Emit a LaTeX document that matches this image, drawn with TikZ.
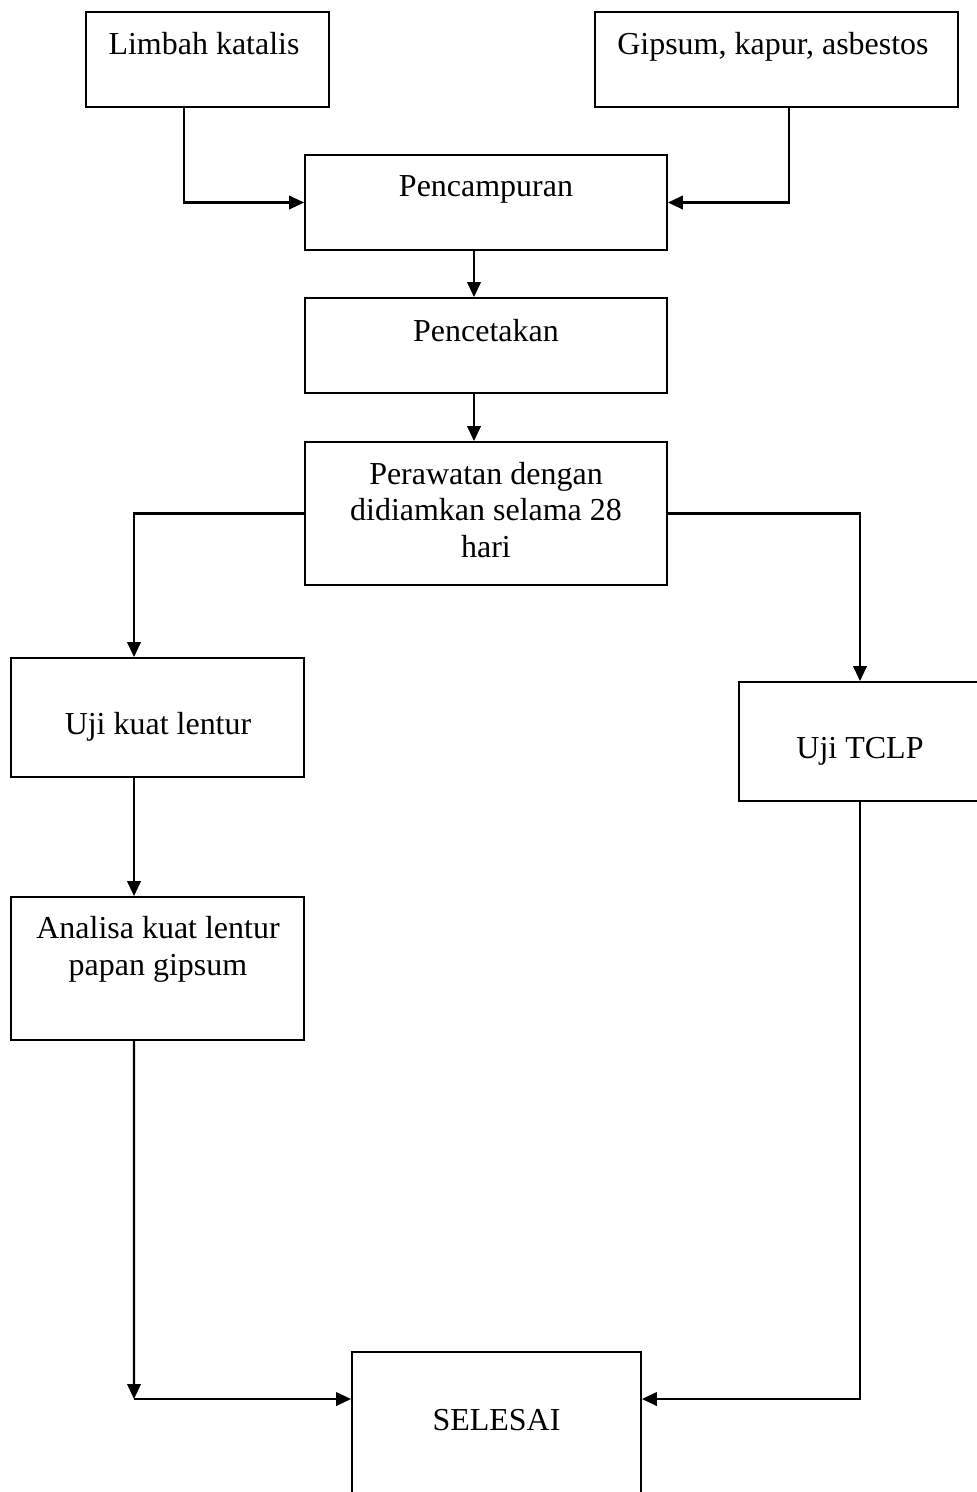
\documentclass[tikz,border=0pt]{standalone}
\usepackage{fontspec}
\setmainfont{Liberation Serif}
\usetikzlibrary{arrows.meta}
\usetikzlibrary{positioning}
\tikzset{%
	blok/.style={rectangle,draw,line width=1.1,inner sep=0},
	txt/.style={inner sep=0,align=center,font=\fontsize{18.2}{21}\selectfont},
	ar/.style={arrows={-Triangle[length=0.3cm,width=0.27cm]},line width=1.3},
	ln/.style={line width=1.3},
}
\begin{document}
\begin{tikzpicture}[x=0.02cm,y=-0.02cm]
	\useasboundingbox (0,0) rectangle (977,1492);
	\clip (0,0) rectangle (977,1492);
	\node (limbah) at (207.5,59.5) [blok,minimum width=4.86cm,minimum height=1.9cm] {};
	\node (gipsum) at (776.5,59.5) [blok,minimum width=7.26cm,minimum height=1.9cm] {};
	\node (campur) at (486,202.5) [blok,minimum width=7.24cm,minimum height=1.9cm] {};
	\node (cetak) at (486,345.5) [blok,minimum width=7.24cm,minimum height=1.9cm] {};
	\node (rawat) at (486,513.5) [blok,minimum width=7.24cm,minimum height=2.86cm] {};
	\node (lentur) at (157.5,717.5) [blok,minimum width=5.86cm,minimum height=2.38cm] {};
	\node (tclp) at (860,741.5) [blok,minimum width=4.84cm,minimum height=2.38cm] {};
	\node (analisa) at (157.5,968.5) [blok,minimum width=5.86cm,minimum height=2.86cm] {};
	\node (selesai) at (496.5,1426) [blok,minimum width=5.78cm,minimum height=2.96cm] {};
	
	\node (limbahT) at (204,44) [txt] {Limbah katalis};
	\node (gipsumT) at (773,47) [txt] {Gipsum, kapur, asbestos};
	\node (campurT) at (486,189) [txt] {Pencampuran};
	\node (cetakT) at (486,331) [txt] {Pencetakan};
	\node (rawatT) at (486,510) [txt] {Perawatan dengan\\didiamkan selama 28\\hari};
	\node (lenturT) at (158,727) [txt] {Uji kuat lentur};
	\node (tclpT) at (860,751) [txt] {Uji TCLP};
	\node (analisaT) at (158,949) [txt] {Analisa kuat lentur\\papan gipsum};
	\node (selesaiT) at (496.5,1420) [txt] {SELESAI};
	
	\coordinate (sudut) at (134,1399);
	\draw[ar] ([xshift=-0.47cm]limbah.south) |- (campur);
	\draw[ar] ([xshift=0.25cm]gipsum.south) |- (campur);
	\draw[ar] ([xshift=-0.24cm]campur.south) -- ([xshift=-0.24cm]cetak.north);
	\draw[ar] ([xshift=-0.24cm]cetak.south) -- ([xshift=-0.24cm]rawat.north);
	\draw[ar] (rawat.west) -| ([xshift=-0.47cm]lentur.north);
	\draw[ar] (rawat.east) -| (tclp.north);
	\draw[ar] ([xshift=-0.47cm]lentur.south) -- ([xshift=-0.47cm]analisa.north);
	\draw[ar] ([xshift=-0.47cm]analisa.south) -- (sudut);
	\draw[ar] (sudut) -- (sudut -| selesai.west);
	\draw[ar] (tclp.south) |- (sudut -| selesai.east);
\end{tikzpicture}
\end{document}
